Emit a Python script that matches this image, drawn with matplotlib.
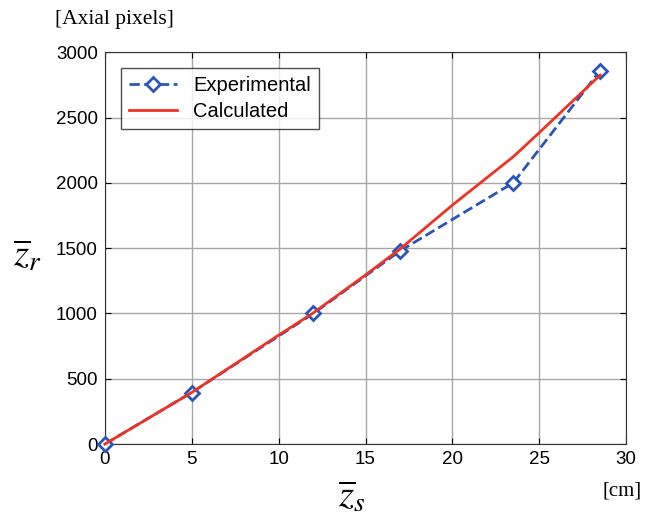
import numpy as np
import matplotlib
matplotlib.use("Agg")
import matplotlib.pyplot as plt

plt.rcParams["font.family"] = ["Liberation Sans", "DejaVu Sans"]
plt.rcParams["mathtext.fontset"] = "stix"

# experimental points
exp_x = [0, 5, 12, 17, 23.5, 28.5]
exp_y = [0, 395, 1000, 1480, 2000, 2860]

# calculated curve
calc_x = [0, 5, 10, 12, 15, 17, 20, 23.5, 25, 28.5]
calc_y = [0, 395, 834, 1005, 1295, 1495, 1830, 2200, 2385, 2825]

xticks = [0, 5, 10, 15, 20, 25, 30]
yticks = [0, 500, 1000, 1500, 2000, 2500, 3000]

fig = plt.figure(figsize=(6.51, 5.17), dpi=100)
ax = fig.add_axes([0.161, 0.141, 0.801, 0.758])

ax.plot(exp_x, exp_y, "--", color="#2a55b8", lw=2, marker="D", ms=7,
        mfc="white", mec="#2a55b8", mew=2, label="Experimental", zorder=3,
        clip_on=False)
ax.plot(calc_x, calc_y, "-", color="#ee3322", lw=2, label="Calculated", zorder=4,
        clip_on=False)

ax.set_xlim(0, 30)
ax.set_ylim(0, 3000)
ax.set_xticks(xticks)
ax.set_yticks(yticks)
ax.tick_params(direction="in", top=True, right=True, labelsize=13.5, length=4, pad=5)
ax.grid(True, color="#a8a8a8", lw=1)
ax.set_axisbelow(True)
for s in ax.spines.values():
    s.set_color("#333333")

leg = ax.legend(loc="upper left", fontsize=14.5, frameon=True, fancybox=False,
                borderaxespad=0.8, handlelength=2.4, borderpad=0.4,
                labelspacing=0.35)
leg.get_frame().set_edgecolor("#222222")
leg.get_frame().set_linewidth(1)

fig.text(0.085, 0.962, "[Axial pixels]", family="Liberation Serif", fontsize=15.5,
         ha="left", va="center")
fig.text(0.985, 0.05, "[cm]", family="Liberation Serif", fontsize=15,
         ha="right", va="center")
fig.text(0.54, 0.038, r"$\overline{z}_s$", fontsize=28, ha="center", va="center")
fig.text(0.042, 0.505, r"$\overline{z}_r$", fontsize=28, ha="center", va="center")

fig.savefig("out.png", dpi=100)
